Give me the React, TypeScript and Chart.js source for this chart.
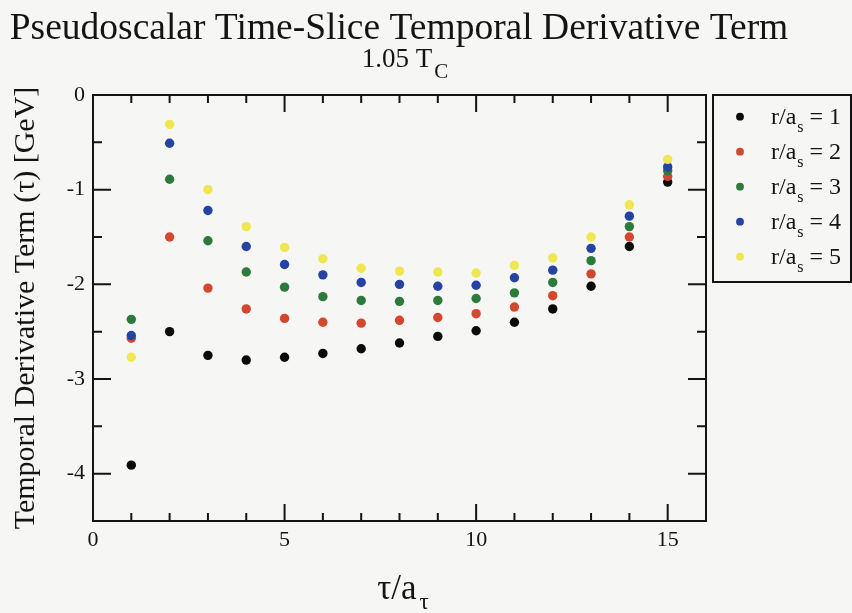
import React, { useEffect, useRef } from "react";
import { Chart, registerables } from "chart.js";

Chart.register(...registerables);

// ---- data ----
const tau = [1, 2, 3, 4, 5, 6, 7, 8, 9, 10, 11, 12, 13, 14, 15];
const r1 = [-3.91, -2.5, -2.75, -2.8, -2.77, -2.73, -2.68, -2.62, -2.55, -2.49, -2.4, -2.26, -2.02, -1.6, -0.92];
const r2 = [-2.57, -1.5, -2.04, -2.26, -2.36, -2.4, -2.41, -2.38, -2.35, -2.31, -2.24, -2.12, -1.89, -1.5, -0.86];
const r3 = [-2.37, -0.89, -1.54, -1.87, -2.03, -2.13, -2.17, -2.18, -2.17, -2.15, -2.09, -1.98, -1.75, -1.39, -0.8];
const r4 = [-2.54, -0.51, -1.22, -1.6, -1.79, -1.9, -1.98, -2.0, -2.02, -2.01, -1.93, -1.85, -1.62, -1.28, -0.76];
const r5 = [-2.77, -0.31, -1.0, -1.39, -1.61, -1.73, -1.83, -1.86, -1.87, -1.88, -1.8, -1.72, -1.5, -1.16, -0.68];
const seriesValues = [r1, r2, r3, r4, r5];
const seriesIds = ["1", "2", "3", "4", "5"];
const seriesColors = ["#0b0b0b", "#d4472f", "#2d7b3c", "#2443a2", "#efe650"];

const titleText = "Pseudoscalar Time-Slice Temporal Derivative Term";
const subtitleMain = "1.05 T";
const subtitleSub = "C";
const yTitleText = "Temporal Derivative Term (τ) [GeV]";
const xTitleMain = "τ/a";
const xTitleSub = "τ";
const legendMain = "r/a";
const legendSub = "s";

const SERIF = '"Liberation Serif", "DejaVu Serif", serif';
const INK = "#141414";

const decorPlugin = {
  id: "decor",
  afterDraw(chart: any) {
    const { ctx, chartArea: a, scales } = chart;
    const xs = scales.x;
    const ys = scales.y;
    ctx.save();
    ctx.strokeStyle = INK;
    ctx.fillStyle = INK;
    ctx.lineWidth = 2;
    ctx.strokeRect(a.left, a.top, a.right - a.left, a.bottom - a.top);

    // inward ticks on all four sides
    ctx.beginPath();
    for (let v = 1; v < 16; v++) {
      const px = xs.getPixelForValue(v);
      const len = v % 5 === 0 ? 17 : 8;
      ctx.moveTo(px, a.bottom);
      ctx.lineTo(px, a.bottom - len);
      ctx.moveTo(px, a.top);
      ctx.lineTo(px, a.top + len);
    }
    for (let k = -8; k < 0; k++) {
      const py = ys.getPixelForValue(k / 2);
      const len = k % 2 === 0 ? 18 : 9;
      ctx.moveTo(a.left, py);
      ctx.lineTo(a.left + len, py);
      ctx.moveTo(a.right, py);
      ctx.lineTo(a.right - len, py);
    }
    ctx.stroke();

    ctx.textBaseline = "alphabetic";

    // title
    ctx.font = `37.5px ${SERIF}`;
    ctx.textAlign = "center";
    ctx.fillText(titleText, 399, 39);

    // subtitle with subscript
    ctx.textAlign = "left";
    ctx.font = `27px ${SERIF}`;
    const w1 = ctx.measureText(subtitleMain).width;
    ctx.font = `21px ${SERIF}`;
    const w2 = ctx.measureText(subtitleSub).width;
    const sx = 405 - (w1 + 2 + w2) / 2;
    ctx.font = `27px ${SERIF}`;
    ctx.fillText(subtitleMain, sx, 67);
    ctx.font = `21px ${SERIF}`;
    ctx.fillText(subtitleSub, sx + w1 + 2, 78);

    // x-axis title
    ctx.font = `35px ${SERIF}`;
    const xw1 = ctx.measureText(xTitleMain).width;
    ctx.font = `23px ${SERIF}`;
    const xw2 = ctx.measureText(xTitleSub).width;
    const xx = 403 - (xw1 + 3 + xw2) / 2;
    ctx.font = `35px ${SERIF}`;
    ctx.fillText(xTitleMain, xx, 599);
    ctx.font = `23px ${SERIF}`;
    ctx.fillText(xTitleSub, xx + xw1 + 3, 609);

    // y-axis title
    ctx.save();
    ctx.translate(34, (a.top + a.bottom) / 2);
    ctx.rotate(-Math.PI / 2);
    ctx.textAlign = "center";
    ctx.font = `30px ${SERIF}`;
    ctx.fillText(yTitleText, 0, 0);
    ctx.restore();

    // legend box
    ctx.lineWidth = 2;
    ctx.strokeRect(713, 95, 138, 187);
    chart.data.datasets.forEach((ds: any, i: number) => {
      const cy = 116.7 + 35 * i;
      ctx.beginPath();
      ctx.fillStyle = ds.backgroundColor;
      ctx.arc(740, cy, 3.9, 0, Math.PI * 2);
      ctx.fill();
      ctx.fillStyle = INK;
      ctx.textAlign = "left";
      ctx.font = `24px ${SERIF}`;
      let tx = 771;
      ctx.fillText(legendMain, tx, cy + 7);
      tx += ctx.measureText(legendMain).width + 1;
      ctx.font = `16px ${SERIF}`;
      ctx.fillText(legendSub, tx, cy + 15);
      tx += ctx.measureText(legendSub).width;
      ctx.font = `24px ${SERIF}`;
      ctx.fillText(" = " + seriesIds[i], tx, cy + 7);
    });
    ctx.restore();
  },
};

export default function App() {
  const ref = useRef<HTMLCanvasElement | null>(null);

  useEffect(() => {
    if (!ref.current) return;
    const datasets = seriesValues.map((vals, i) => ({
      label: `r/a_s = ${seriesIds[i]}`,
      data: tau.map((t, j) => ({ x: t, y: vals[j] })),
      backgroundColor: seriesColors[i],
      borderColor: seriesColors[i],
      pointRadius: 4.7,
      pointBorderWidth: 0,
      pointHoverRadius: 4.7,
      showLine: false,
      order: 5 - i,
    }));
    const tickFont = { family: SERIF, size: 22 };
    const chart = new Chart(ref.current, {
      type: "scatter",
      data: { datasets },
      options: {
        animation: false,
        responsive: false,
        devicePixelRatio: 1,
        layout: { padding: { left: 0, top: 95, right: 146, bottom: 0 } },
        plugins: {
          legend: { display: false },
          title: { display: false },
          tooltip: { enabled: false },
        },
        scales: {
          x: {
            type: "linear",
            min: 0,
            max: 16,
            grid: { display: false, drawTicks: false },
            border: { display: false },
            ticks: {
              stepSize: 5,
              includeBounds: false,
              padding: 6,
              color: INK,
              font: tickFont,
              maxRotation: 0,
              autoSkip: false,
            },
            afterFit(s: any) {
              s.height = 92;
            },
          },
          y: {
            type: "linear",
            min: -4.5,
            max: 0,
            grid: { display: false, drawTicks: false },
            border: { display: false },
            ticks: {
              stepSize: 1,
              includeBounds: false,
              padding: 8,
              color: INK,
              font: tickFont,
            },
            afterFit(s: any) {
              s.width = 93;
            },
          },
        },
      } as any,
      plugins: [decorPlugin],
    });
    return () => chart.destroy();
  }, []);

  return (
    <div
      style={{
        position: "fixed",
        left: 0,
        top: 0,
        width: 852,
        height: 613,
        background: "#f6f6f5",
      }}
    >
      <canvas ref={ref} width={852} height={613} style={{ display: "block" }} />
    </div>
  );
}
